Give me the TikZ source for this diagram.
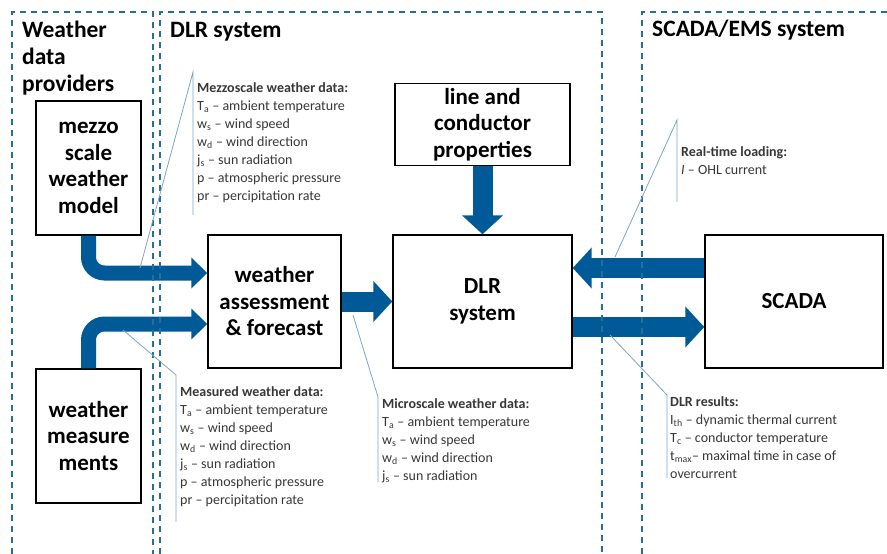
\documentclass[tikz,border=0pt]{standalone}
\usepackage{fontspec}
\setmainfont{Carlito}
\usetikzlibrary{arrows.meta, positioning, calc}

\definecolor{dlrblue}{RGB}{0,90,152}
\definecolor{framecol}{RGB}{40,110,155}
\definecolor{callcol}{RGB}{125,165,198}
\definecolor{notecol}{RGB}{55,55,55}

\begin{document}
\begin{tikzpicture}[
    x=1pt, y=-1pt,
    every node/.style={inner sep=0pt},
    box/.style={draw, line width=1.4pt, fill=white, align=center,
                font=\fontsize{23}{26.5}\selectfont\bfseries},
    region/.style={draw=framecol, line width=1.6pt, dash pattern=on 6pt off 5pt},
    heading/.style={font=\fontsize{23.5}{27}\selectfont\bfseries},
    note/.style={anchor=north west, align=left, text=notecol,
                 font=\fontsize{14}{18}\selectfont},
    callout/.style={draw=callcol, line width=0.8pt},
    feed/.style={draw=dlrblue, line width=15pt, rounded corners=16pt,
                 -{Triangle[width=30pt, length=16pt]}},
    flow/.style={draw=dlrblue, line width=20pt,
                 -{Triangle[width=40pt, length=19pt]}},
  ]
  \useasboundingbox (0,0) rectangle (887,554);

  % boxes
  \node[box, minimum width=105pt, minimum height=134pt] (mezzo) at (88.5,168)
    {mezzo\\scale\\weather\\model};
  \node[box, minimum width=105pt, minimum height=134pt] (meas) at (88.5,436)
    {weather\\measure\\ments};
  \node[box, minimum width=133pt, minimum height=133pt] (weather) at (274.5,301.5)
    {weather\\assessment\\\& forecast};
  \node[box, minimum width=175pt, minimum height=82pt] (line) at (482.5,124.5)
    {line and\\conductor\\properties};
  \node[box, minimum width=179pt, minimum height=133pt] (dlr) at (482.5,301.5)
    {DLR\\system};
  \node[box, minimum width=178pt, minimum height=133pt] (scada) at (794,301.5)
    {SCADA};

  % data flows
  \draw[feed] (mezzo.south) |- ([yshift=28.5pt]weather.west);
  \draw[feed] (meas.north) |- ([yshift=-22.5pt]weather.west);
  \draw[flow] (weather.east) -- (dlr.west);
  \draw[flow] (line.south) -- (dlr.north);
  \draw[flow] ([yshift=33.5pt]scada.west) -- ([yshift=33.5pt]dlr.east);
  \draw[flow] ([yshift=-25.5pt]dlr.east) -- ([yshift=-25.5pt]scada.west);

  % dashed system borders
  \draw[region] (12,554) |- (153,12) -- (153,554);
  \draw[region] (160,554) |- (602,12) -- (602,554);
  \draw[region] (642,554) |- (890,12);

  \node[heading, anchor=north west, align=left] (hprov) at (22,21)
    {Weather\\data\\providers};
  \node[heading, anchor=base west] (hdlr) at (170,37) {DLR system};
  \node[heading, anchor=base west] (hscada) at (652,36) {SCADA/EMS system};

  % callouts
  \coordinate (mzTip) at (140,268);
  \coordinate (mzTop) at (193,72);
  \coordinate (mzBot) at (193,215);
  \draw[callout] (mzTip) -- (mzTop) -- (mzBot);
  \node[note] (nmezzo) at (197,82)
    {\textbf{Mezzoscale weather data:}\\
     T\textsubscript{a} -- ambient temperature\\
     w\textsubscript{s} -- wind speed\\
     w\textsubscript{d} -- wind direction\\
     j\textsubscript{s} -- sun radiation\\
     p -- atmospheric pressure\\
     pr -- percipitation rate};

  \coordinate (msTip) at (123,330);
  \coordinate (msKnee) at (176,375);
  \coordinate (msBot) at (176,522);
  \draw[callout] (msTip) -- (msKnee) -- (msBot);
  \node[note] (nmeas) at (180,386)
    {\textbf{Measured weather data:}\\
     T\textsubscript{a} -- ambient temperature\\
     w\textsubscript{s} -- wind speed\\
     w\textsubscript{d} -- wind direction\\
     j\textsubscript{s} -- sun radiation\\
     p -- atmospheric pressure\\
     pr -- percipitation rate};

  \coordinate (mcTip) at (353,315);
  \coordinate (mcKnee) at (378,397);
  \coordinate (mcBot) at (378,482);
  \draw[callout] (mcTip) -- (mcKnee) -- (mcBot);
  \node[note] (nmicro) at (382,398)
    {\textbf{Microscale weather data:}\\
     T\textsubscript{a} -- ambient temperature\\
     w\textsubscript{s} -- wind speed\\
     w\textsubscript{d} -- wind direction\\
     j\textsubscript{s} -- sun radiation};

  \coordinate (rtTip) at (615,257);
  \coordinate (rtTop) at (677,120);
  \coordinate (rtBot) at (677,202);
  \draw[callout] (rtTip) -- (rtTop) -- (rtBot);
  \node[note] (nreal) at (681,146)
    {\textbf{Real-time loading:}\\
     \textit{I} -- OHL current};

  \coordinate (rsTip) at (610,335);
  \coordinate (rsKnee) at (667,395);
  \coordinate (rsBot) at (667,478);
  \draw[callout] (rsTip) -- (rsKnee) -- (rsBot);
  \node[note] (nres) at (670,396)
    {\textbf{DLR results:}\\
     I\textsubscript{th} -- dynamic thermal current\\
     T\textsubscript{c} -- conductor temperature\\
     t\textsubscript{max}-- maximal time in case of\\
     overcurrent};
\end{tikzpicture}
\end{document}
